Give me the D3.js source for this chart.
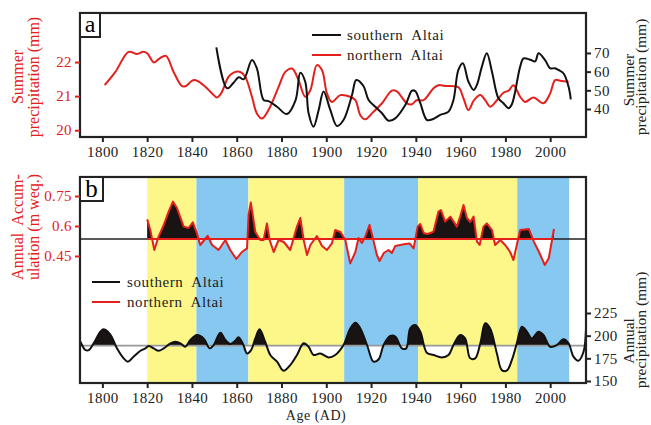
<!DOCTYPE html>
<html>
<head>
<meta charset="utf-8">
<script src="https://cdn.jsdelivr.net/npm/d3@7"></script>
<style>
  body { margin: 0; background: #fff; }
  svg { display: block; font-family: "Liberation Serif", "Times New Roman", serif; }
</style>
</head>
<body>
<svg id="chart"></svg>
<script>
// panel a: summer precipitation
var northYears = [1801, 1805.8, 1811.7, 1815.5, 1818.2, 1820, 1823, 1825.6, 1828.4, 1831.8, 1835.6, 1837, 1841, 1845.2, 1849, 1851.2, 1853, 1856.4, 1858.6, 1861.6, 1863.8, 1866.8, 1869, 1871.3, 1874.2, 1878.7, 1881.7, 1884.7, 1887.6, 1890.6, 1892.9, 1895.8, 1898.1, 1900.3, 1902.5, 1906.3, 1910.7, 1913, 1915.2, 1917.4, 1921.1, 1924.9, 1929.3, 1931.5, 1936, 1938.2, 1940.4, 1943.4, 1947.9, 1950.1, 1953, 1959, 1961.3, 1963.5, 1966, 1968.8, 1971, 1973.2, 1976.2, 1979.1, 1981.4, 1983.6, 1986.6, 1988.8, 1992.5, 1997, 2000, 2002.2, 2004.5, 2008.2];
var northVals = [21.32, 21.71, 22.30, 22.24, 22.30, 22.26, 21.99, 22.11, 22.18, 21.71, 21.29, 21.29, 21.47, 21.32, 21.08, 20.96, 21.08, 21.57, 21.69, 21.71, 21.57, 20.98, 20.49, 20.34, 20.59, 21.27, 21.71, 21.81, 21.47, 20.98, 21.18, 21.91, 21.76, 21.08, 20.83, 21.03, 20.98, 20.88, 20.44, 20.32, 20.54, 20.79, 21.16, 21.14, 20.79, 20.76, 20.88, 20.88, 21.23, 21.32, 21.30, 21.26, 20.93, 20.59, 20.88, 21.03, 20.88, 20.69, 20.88, 21.10, 21.16, 21.32, 20.98, 20.83, 20.96, 20.79, 21.08, 21.47, 21.45, 21.42];

var southYears = [1850.9, 1855.7, 1858.6, 1860.9, 1863.1, 1866.8, 1869, 1872, 1874.2, 1878, 1882.4, 1886.3, 1888.4, 1890.6, 1892.1, 1894.3, 1896.6, 1898.8, 1901.8, 1904.8, 1907.7, 1911.5, 1913.4, 1916.6, 1918.9, 1921.9, 1924.9, 1927.8, 1930.8, 1935.3, 1938.3, 1939.8, 1942, 1945, 1948, 1950.9, 1954.6, 1956.8, 1959, 1961, 1963.5, 1965.8, 1967.3, 1969.5, 1971.7, 1974, 1976.9, 1979.1, 1981.4, 1982.9, 1986.6, 1988.1, 1991.1, 1993.3, 1994.8, 1997.8, 2000, 2002.2, 2003.7, 2006, 2008.2, 2009.2];
var southVals = [73.0, 51.1, 54.1, 57.0, 55.9, 66.2, 61.8, 44.8, 44.2, 41.2, 37.3, 44.8, 59.4, 54.6, 37.7, 30.5, 39.5, 49.3, 39.5, 30.9, 34.1, 47.5, 55.5, 52.3, 44.8, 41.2, 37.7, 33.7, 35, 42.1, 49.8, 49.5, 43.1, 34.1, 34.8, 36.8, 38.6, 44.8, 60.9, 64.5, 54.6, 50.2, 53, 62.7, 69.8, 60, 45.7, 43.1, 40.4, 42.5, 62.7, 67.1, 66.4, 65.5, 69.8, 66, 61.8, 61.8, 60.9, 59, 52, 45.2];

// panel b top: annual accumulation (northern Altai)
var accYears = [1820, 1821.4, 1823.2, 1825.1, 1827.4, 1829.6, 1831.5, 1833.3, 1836.3, 1838.5, 1840.4, 1842.2, 1843.7, 1845.5, 1847, 1849, 1851.9, 1854.9, 1857.1, 1859.8, 1862.3, 1864.6, 1865.3, 1866.3, 1868.3, 1870.5, 1872, 1873.5, 1874.7, 1876.5, 1878.7, 1881, 1883.9, 1886.9, 1888.4, 1889.9, 1891.4, 1892.9, 1895.8, 1898.1, 1900.3, 1902.5, 1904, 1906.3, 1908.5, 1910.7, 1913, 1914.4, 1915.9, 1917.4, 1919.3, 1920.8, 1922.6, 1923.8, 1925.7, 1927.8, 1929.3, 1930.8, 1933, 1935.3, 1937.2, 1939, 1940.8, 1942, 1943.5, 1945, 1946.5, 1947.9, 1950.1, 1951.2, 1953.1, 1955.4, 1958.3, 1959.8, 1961.3, 1962.8, 1964.3, 1965.8, 1967.3, 1968.5, 1970.2, 1971.7, 1974, 1975.4, 1977.7, 1979.9, 1982.1, 1983.6, 1986.6, 1990.5, 1992.7, 1995, 1997.6, 1999.4, 2001.7];
var accVals = [0.633, 0.58, 0.48, 0.547, 0.605, 0.672, 0.722, 0.69, 0.597, 0.59, 0.618, 0.563, 0.505, 0.53, 0.551, 0.505, 0.48, 0.53, 0.48, 0.435, 0.47, 0.488, 0.655, 0.718, 0.57, 0.53, 0.53, 0.613, 0.53, 0.47, 0.53, 0.52, 0.48, 0.597, 0.64, 0.53, 0.455, 0.505, 0.55, 0.5, 0.48, 0.513, 0.58, 0.57, 0.53, 0.413, 0.47, 0.54, 0.515, 0.547, 0.605, 0.54, 0.455, 0.425, 0.465, 0.48, 0.465, 0.5, 0.505, 0.51, 0.513, 0.488, 0.597, 0.61, 0.565, 0.56, 0.565, 0.572, 0.672, 0.68, 0.622, 0.647, 0.597, 0.647, 0.705, 0.64, 0.62, 0.647, 0.522, 0.505, 0.597, 0.613, 0.58, 0.505, 0.53, 0.505, 0.47, 0.43, 0.58, 0.585, 0.522, 0.47, 0.405, 0.44, 0.585];
var accBase = 0.535;

// panel b bottom: annual precipitation (southern Altai)
var annYears = [1790.2, 1792.4, 1793.9, 1796.1, 1799.1, 1800.6, 1803.6, 1806.5, 1809.5, 1811.4, 1814, 1817, 1819.2, 1820.7, 1822.9, 1825.1, 1827.4, 1830.4, 1832.6, 1834.9, 1837, 1839.3, 1842.2, 1845.2, 1847.9, 1849.7, 1852.7, 1854.9, 1857.1, 1859.3, 1860.8, 1862.8, 1864.6, 1866.4, 1868.3, 1870.2, 1872.7, 1875, 1878, 1880.9, 1883.9, 1886.9, 1889.9, 1892.1, 1894.3, 1897.3, 1901, 1904, 1907.7, 1910.7, 1913, 1915.2, 1918.2, 1921.1, 1923.4, 1925.6, 1928.6, 1930.8, 1933.8, 1935.7, 1937.5, 1939.7, 1942, 1944.9, 1947.9, 1951.6, 1954.6, 1956.8, 1959.8, 1962, 1964.3, 1966.5, 1968.8, 1971, 1973.2, 1976.2, 1978.4, 1980.6, 1982.9, 1985.1, 1987.4, 1989.6, 1991.8, 1994.8, 1997, 2000, 2003, 2005.9, 2008.2, 2010.4, 2012.6, 2014.9, 2016];
var annVals = [193.3, 184.2, 184, 191.6, 204.4, 207, 201, 186, 175, 171.3, 177, 183.4, 186, 188.6, 186, 183.4, 186, 191.6, 193.3, 191.6, 187.8, 195.2, 200.7, 197, 186, 189.6, 203.3, 195.2, 190.8, 194.5, 198.2, 190.8, 180.4, 184, 197, 207, 193.3, 178.7, 171.3, 161.4, 167.6, 178.7, 191.6, 187.8, 178.7, 180.4, 176, 178.7, 189.7, 208, 214.3, 208, 189.7, 171.3, 174, 189.7, 199.6, 199, 186, 186, 208, 211.7, 204.4, 181.2, 178.7, 176, 178.7, 189.7, 200.7, 197, 175, 175, 191.6, 213.6, 208, 180.4, 162, 161.4, 173.2, 191.6, 209.9, 204.4, 197, 204.4, 200.7, 187.8, 189.7, 196, 191.6, 176.8, 172.4, 182.3, 208];
var annBase = 189;

// background bands (wet / dry periods)
var bandStart = [1820, 1842, 1865.2, 1908, 1941, 1985.3];
var bandEnd = [1842, 1865.2, 1908, 1941, 1985.3, 2008.5];
var bandColor = ["#fdf78a", "#86c8f0", "#fdf78a", "#86c8f0", "#fdf78a", "#86c8f0"];

var xTicks = [1800, 1820, 1840, 1860, 1880, 1900, 1920, 1940, 1960, 1980, 2000];
var aLeftTicks = [20, 21, 22];
var aRightTicks = [40, 50, 60, 70];
var bLeftTicks = [0.45, 0.6, 0.75];
var bRightTicks = [150, 175, 200, 225];

var RED = "#e3201b";
var svgWidth = 651, svgHeight = 425;
var left = 80, right = 586;
var aTop = 13, aBottom = 137;
var bTop = 177, bBottom = 383;

var svg = d3.select("#chart")
    .attr("width", svgWidth)
    .attr("height", svgHeight);

var x = d3.scaleLinear().domain([1790, 2016]).range([left, right]);

var yaL = d3.scaleLinear().domain([19.8, 23.44]).range([aBottom, aTop]);
var yaR = d3.scaleLinear().domain([25, 91.4]).range([aBottom, aTop]);
var ybA = d3.scaleLinear().domain([0.45, 0.75]).range([256, 196]);
var ybP = d3.scaleLinear().domain([150, 225]).range([381, 313]);

function pts(xs, ys) {
    return xs.map(function (d, i) { return [d, ys[i]]; });
}

// clip paths
var defs = svg.append("defs");
defs.append("clipPath").attr("id", "clipA").append("rect")
    .attr("x", left).attr("y", aTop).attr("width", right - left).attr("height", aBottom - aTop);
defs.append("clipPath").attr("id", "clipB").append("rect")
    .attr("x", left).attr("y", bTop).attr("width", right - left).attr("height", bBottom - bTop);
defs.append("clipPath").attr("id", "accAbove").append("rect")
    .attr("x", left).attr("y", bTop).attr("width", right - left).attr("height", ybA(accBase) - bTop);
defs.append("clipPath").attr("id", "accBelow").append("rect")
    .attr("x", left).attr("y", ybA(accBase)).attr("width", right - left).attr("height", 120);
defs.append("clipPath").attr("id", "annAbove").append("rect")
    .attr("x", left).attr("y", 280).attr("width", right - left).attr("height", ybP(annBase) - 280);
defs.append("clipPath").attr("id", "annBelow").append("rect")
    .attr("x", left).attr("y", ybP(annBase)).attr("width", right - left).attr("height", bBottom - ybP(annBase));

// ---------- panel a ----------
var gA = svg.append("g").attr("clip-path", "url(#clipA)");

var lineN = d3.line()
    .x(function (d) { return x(d[0]); })
    .y(function (d) { return yaL(d[1]); })
    .curve(d3.curveCatmullRom);
var lineS = d3.line()
    .x(function (d) { return x(d[0]); })
    .y(function (d) { return yaR(d[1]); })
    .curve(d3.curveCatmullRom);

gA.append("path")
    .attr("d", lineN(pts(northYears, northVals)))
    .attr("fill", "none").attr("stroke", RED).attr("stroke-width", 2);
gA.append("path")
    .attr("d", lineS(pts(southYears, southVals)))
    .attr("fill", "none").attr("stroke", "#111").attr("stroke-width", 2);

svg.append("rect")
    .attr("x", left).attr("y", aTop).attr("width", right - left).attr("height", aBottom - aTop)
    .attr("fill", "none").attr("stroke", "#222").attr("stroke-width", 2.2);

// "a" label box
svg.append("rect").attr("x", left).attr("y", aTop).attr("width", 20).attr("height", 24)
    .attr("fill", "#fff").attr("stroke", "#222").attr("stroke-width", 2);
svg.append("text").attr("x", left + 10).attr("y", aTop + 19).attr("text-anchor", "middle")
    .attr("font-size", 24).text("a");

// axes a
function styleAxis(g, color, size) {
    g.select(".domain").remove();
    g.selectAll("line").attr("stroke", color).attr("stroke-width", 2);
    g.selectAll("text").attr("fill", color).attr("font-size", size)
        .attr("font-family", "Liberation Serif").attr("letter-spacing", 0.4);
}

svg.append("g")
    .attr("transform", "translate(0," + aBottom + ")")
    .call(d3.axisBottom(x).tickValues(xTicks).tickSize(5).tickPadding(4).tickFormat(d3.format("d")))
    .call(styleAxis, "#222", 15);

svg.append("g")
    .attr("transform", "translate(" + left + ",0)")
    .call(d3.axisLeft(yaL).tickValues(aLeftTicks).tickSize(5).tickPadding(3).tickFormat(d3.format("d")))
    .call(styleAxis, RED, 15);

svg.append("g")
    .attr("transform", "translate(" + right + ",0)")
    .call(d3.axisRight(yaR).tickValues(aRightTicks).tickSize(5).tickPadding(3).tickFormat(d3.format("d")))
    .call(styleAxis, "#222", 15);

// legend a
var legA = [["southern  Altai", "#111", 35], ["northern  Altai", RED, 55]];
legA.forEach(function (d) {
    svg.append("line").attr("x1", 312).attr("x2", 341).attr("y1", d[2]).attr("y2", d[2])
        .attr("stroke", d[1]).attr("stroke-width", 2);
    svg.append("text").attr("x", 347).attr("y", d[2] + 5).attr("font-size", 15)
        .attr("letter-spacing", 0.6)
        .attr("fill", "#222").style("white-space", "pre").text(d[0]);
});

// ---------- panel b ----------
var gB = svg.append("g").attr("clip-path", "url(#clipB)");

gB.selectAll("rect.band")
    .data(bandStart)
    .enter()
    .append("rect")
    .attr("class", "band")
    .attr("x", function (d) { return x(d); })
    .attr("y", bTop)
    .attr("width", function (d, i) { return x(bandEnd[i]) - x(d); })
    .attr("height", bBottom - bTop)
    .attr("fill", function (d, i) { return bandColor[i]; });

// accumulation
var accPts = pts(accYears, accVals);
var accArea = d3.area()
    .x(function (d) { return x(d[0]); })
    .y0(ybA(accBase))
    .y1(function (d) { return ybA(d[1]); });
gB.append("path").attr("d", accArea(accPts)).attr("fill", "#1a1313").attr("clip-path", "url(#accAbove)");
gB.append("path").attr("d", accArea(accPts)).attr("fill", "#fff").attr("clip-path", "url(#accBelow)");

gB.append("line")
    .attr("x1", left).attr("x2", right).attr("y1", ybA(accBase)).attr("y2", ybA(accBase))
    .attr("stroke", "#222").attr("stroke-width", 1.6);
gB.append("line")
    .attr("x1", x(accYears[0])).attr("x2", x(accYears[accYears.length - 1]))
    .attr("y1", ybA(accBase)).attr("y2", ybA(accBase))
    .attr("stroke", RED).attr("stroke-width", 2);

var accLine = d3.line()
    .x(function (d) { return x(d[0]); })
    .y(function (d) { return ybA(d[1]); });
gB.append("path").attr("d", accLine(accPts))
    .attr("fill", "none").attr("stroke", RED).attr("stroke-width", 2).attr("stroke-linejoin", "round");

// annual precipitation
var annPts = pts(annYears, annVals);
var annArea = d3.area()
    .x(function (d) { return x(d[0]); })
    .y0(ybP(annBase))
    .y1(function (d) { return ybP(d[1]); })
    .curve(d3.curveCatmullRom);
gB.append("path").attr("d", annArea(annPts)).attr("fill", "#1a1313").attr("clip-path", "url(#annAbove)");
gB.append("path").attr("d", annArea(annPts)).attr("fill", "#fff").attr("clip-path", "url(#annBelow)");

gB.append("line")
    .attr("x1", left).attr("x2", right).attr("y1", ybP(annBase)).attr("y2", ybP(annBase))
    .attr("stroke", "#999").attr("stroke-width", 1.6);

var annLine = d3.line()
    .x(function (d) { return x(d[0]); })
    .y(function (d) { return ybP(d[1]); })
    .curve(d3.curveCatmullRom);
gB.append("path").attr("d", annLine(annPts))
    .attr("fill", "none").attr("stroke", "#111").attr("stroke-width", 2);

svg.append("rect")
    .attr("x", left).attr("y", bTop).attr("width", right - left).attr("height", bBottom - bTop)
    .attr("fill", "none").attr("stroke", "#222").attr("stroke-width", 2.2);

svg.append("rect").attr("x", left).attr("y", bTop).attr("width", 23).attr("height", 24)
    .attr("fill", "#fff").attr("stroke", "#222").attr("stroke-width", 2);
svg.append("text").attr("x", left + 11.5).attr("y", bTop + 20).attr("text-anchor", "middle")
    .attr("font-size", 25).text("b");

svg.append("g")
    .attr("transform", "translate(0," + bBottom + ")")
    .call(d3.axisBottom(x).tickValues(xTicks).tickSize(5).tickPadding(4).tickFormat(d3.format("d")))
    .call(styleAxis, "#222", 15);

svg.append("g")
    .attr("transform", "translate(" + left + ",0)")
    .call(d3.axisLeft(ybA).tickValues(bLeftTicks).tickSize(5).tickPadding(3).tickFormat(function (d) { return d; }))
    .call(styleAxis, RED, 15);

svg.append("g")
    .attr("transform", "translate(" + right + ",0)")
    .call(d3.axisRight(ybP).tickValues(bRightTicks).tickSize(5).tickPadding(3).tickFormat(d3.format("d")))
    .call(styleAxis, "#222", 15);

// legend b
var legB = [["southern  Altai", "#111", 282], ["northern  Altai", RED, 302]];
legB.forEach(function (d) {
    svg.append("line").attr("x1", 92).attr("x2", 120).attr("y1", d[2]).attr("y2", d[2])
        .attr("stroke", d[1]).attr("stroke-width", 2);
    svg.append("text").attr("x", 127).attr("y", d[2] + 5).attr("font-size", 15)
        .attr("letter-spacing", 0.6)
        .attr("fill", "#222").style("white-space", "pre").text(d[0]);
});

// axis titles
function vTitle(xPos, yPos, txt, color, size) {
    svg.append("text")
        .attr("transform", "translate(" + xPos + "," + yPos + ") rotate(-90)")
        .attr("text-anchor", "middle")
        .attr("font-size", size || 16)
        .attr("fill", color)
        .style("white-space", "pre")
        .text(txt);
}
vTitle(23, 77, "Summer", RED);
vTitle(39, 77, "precipitation (mm)", RED);
vTitle(634, 80, "Summer", "#222", 15.5);
vTitle(646, 77, "precipitation (mm)", "#222", 15.5);
vTitle(23, 227, "Annual  Accum-", RED);
vTitle(39, 227, "ulation (m weq.)", RED);
vTitle(634, 341, "Annual", "#222", 15.5);
vTitle(646, 330, "precipitation (mm)", "#222", 15.5);

svg.append("text").attr("x", 316).attr("y", 420).attr("text-anchor", "middle")
    .attr("font-size", 14).attr("letter-spacing", 0.5).attr("fill", "#222")
    .style("white-space", "pre").text("Age (AD)");
</script>
</body>
</html>
